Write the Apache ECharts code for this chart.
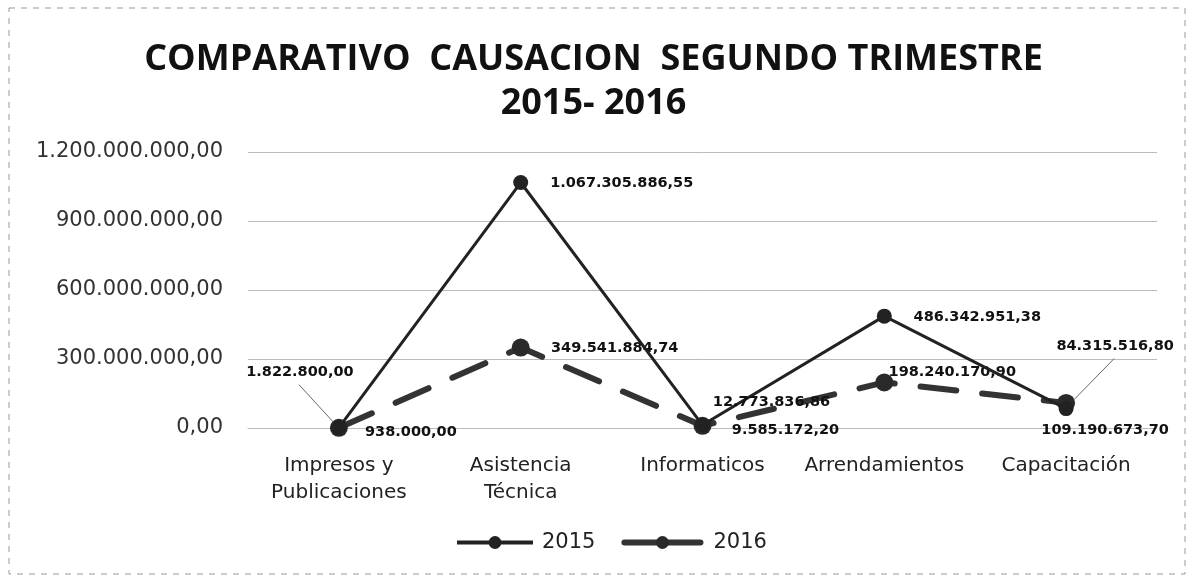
<!DOCTYPE html>
<html>
<head>
<meta charset="utf-8">
<style>
    html, body{ margin: 0; padding: 0; background: #fff;}
    #chart1{ width: 1187px; height: 578px;}
</style>
<script src="https://cdn.jsdelivr.net/npm/echarts@6/dist/echarts.min.js"></script>
</head>
<body>
<div id="chart1"></div>
<script>
    var categories = ['Impresos y\nPublicaciones', 'Asistencia\nTécnica', 'Informaticos', 'Arrendamientos', 'Capacitación'];
    var values2015 = [1822800.00, 1067305886.55, 12773836.86, 486342951.38, 84315516.80];
    var values2016 = [938000.00, 349541884.74, 9585172.20, 198240170.90, 109190673.70];
    var seriesNames = ['2015', '2016'];
    var yTicks = { min: 0, max: 1200000000, interval: 300000000 };

    // number as 1.234.567,89
    function fmt(v){
        var parts = v.toFixed(2).split('.');
        return parts[0].replace(/\B(?=(\d{3})+(?!\d))/g, '.') + ',' + parts[1];
    }

    // label centre offset from point centre; optional leader [start, end] offsets from point centre
    var place2015 = [
        [-39, -55, [[-40, -43], [-6, -6]]],
        [101, 1],
        [69, -23],
        [93, 1],
        [49, -62, [[48, -50], [8, -9]]]
    ];
    var place2016 = [[72, 4], [94, 1], [83, 4], [68, -10], [39, 27]];

    function layoutFor(place){
        return function(p){
            var o = place[p.dataIndex];
            return {
                x: p.rect.x + p.rect.width / 2 + o[0],
                y: p.rect.y + p.rect.height / 2 + o[1],
                align: 'center',
                verticalAlign: 'middle'
            };
        };
    }

    var labelStyle = {
        show: true,
        color: '#111',
        fontWeight: 'bold',
        fontSize: 14.5,
        fontFamily: 'DejaVu Sans',
        formatter: function(p){ return fmt(p.value); }
    };

    var border = {
        type: 'rect',
        shape: { x: 9, y: 8, width: 1176, height: 566 },
        style: { fill: 'none', stroke: '#999', lineWidth: 1, lineDash: [6, 6] },
        silent: true
    };

    var chart = echarts.init(document.getElementById('chart1'));
    chart.setOption({
        animation: false,
        textStyle: { fontFamily: 'DejaVu Sans' },
        title: {
            text: 'COMPARATIVO  CAUSACION  SEGUNDO TRIMESTRE\n2015- 2016',
            left: 'center',
            top: 33,
            textStyle: { fontSize: 36, fontWeight: 'bold', color: '#111', lineHeight: 44, fontFamily: 'Open Sans' }
        },
        graphic: [border],
        legend: {
            bottom: 20,
            left: 450,
            itemWidth: 76,
            itemHeight: 16,
            itemGap: 26,
            textStyle: { fontSize: 21, color: '#222' },
            data: [
                { name: seriesNames[0], lineStyle: { width: 4 }, textStyle: { padding: [0, 0, 0, 4] } },
                { name: seriesNames[1], lineStyle: { type: 'solid', width: 6 }, textStyle: { padding: [0, 0, 0, 8] } }
            ]
        },
        grid: { left: 248, right: 30, top: 152, bottom: 150 },
        xAxis: {
            type: 'category',
            data: categories,
            axisTick: { show: false },
            axisLine: { lineStyle: { color: '#bbb' } },
            axisLabel: { color: '#222', fontSize: 20, lineHeight: 27, margin: 24, interval: 0 }
        },
        yAxis: {
            type: 'value',
            min: yTicks.min,
            max: yTicks.max,
            interval: yTicks.interval,
            axisLine: { show: false },
            axisTick: { show: false },
            splitLine: { lineStyle: { color: '#bbb' } },
            axisLabel: { color: '#333', fontSize: 21, margin: 25, formatter: fmt }
        },
        series: [{
            name: seriesNames[0],
            type: 'line',
            data: values2015,
            symbol: 'circle',
            symbolSize: 15,
            itemStyle: { color: '#222' },
            lineStyle: { color: '#222', width: 3 },
            label: labelStyle,
            labelLayout: layoutFor(place2015),
            z: 3
        }, {
            name: seriesNames[1],
            type: 'line',
            data: values2016,
            symbol: 'circle',
            symbolSize: 18,
            itemStyle: { color: '#2a2a2a' },
            lineStyle: { color: '#333', width: 6, type: [36, 26], cap: 'round' },
            label: labelStyle,
            labelLayout: layoutFor(place2016),
            z: 2
        }]
    });

    // leader lines for the labels placed away from their points
    var leaders = [];
    place2015.forEach(function(o, i){
        if (!o[2]) return;
        var pt = chart.convertToPixel({ seriesIndex: 0 }, [i, values2015[i]]);
        leaders.push({
            type: 'line',
            silent: true,
            z: 10,
            shape: { x1: pt[0] + o[2][0][0], y1: pt[1] + o[2][0][1], x2: pt[0] + o[2][1][0], y2: pt[1] + o[2][1][1] },
            style: { stroke: '#666', lineWidth: 1 }
        });
    });
    chart.setOption({ graphic: [border].concat(leaders) }, { replaceMerge: ['graphic'] });
</script>
</body>
</html>
